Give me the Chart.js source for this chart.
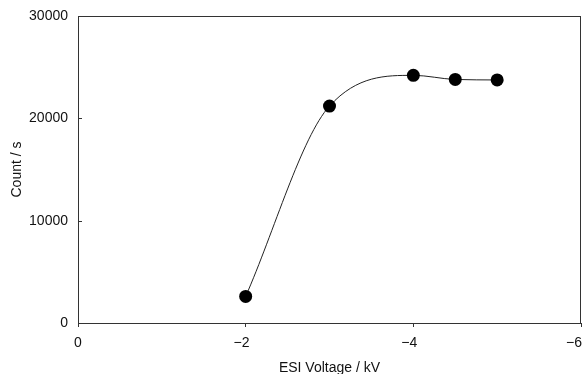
<!DOCTYPE html>
<html>
<head>
<meta charset="utf-8">
<script src="https://cdn.jsdelivr.net/npm/chart.js@4/dist/chart.umd.min.js"></script>
<style>
  html, body { margin: 0; padding: 0; background: #fff; }
  #wrap { width: 582px; height: 374px; position: relative; }
</style>
</head>
<body>
<div id="wrap"><canvas id="esi-chart"></canvas></div>
<script>
// ESI voltage (kV) vs. ion count rate
const voltages = [-2, -3, -4, -4.5, -5];
const counts = [2600, 21200, 24200, 23800, 23750];
const xTicks = [-6, -4, -2, 0];
const yTicks = [0, 10000, 20000, 30000];

const AXIS_COLOR = '#333';
const TEXT_COLOR = '#111';
const FONT = 'Liberation Sans, Arial, sans-serif';

const formatVoltage = (v) => (v < 0 ? '\u2212' + Math.abs(v) : String(v));

// box round the plot area, with short inward ticks on the y axis
const frameBox = {
  id: 'frameBox',
  afterDraw(chart) {
    const { ctx, chartArea: a } = chart;
    const y = chart.scales.y;
    ctx.save();
    ctx.strokeStyle = AXIS_COLOR;
    ctx.lineWidth = 1;
    ctx.strokeRect(Math.round(a.left) + 0.5, Math.round(a.top) + 0.5,
      Math.round(a.right - a.left) - 1, Math.round(a.bottom - a.top));
    ctx.beginPath();
    yTicks.forEach((v) => {
      const py = Math.round(y.getPixelForValue(v)) + 0.5;
      ctx.moveTo(a.left, py);
      ctx.lineTo(a.left + 4, py);
    });
    ctx.stroke();
    ctx.restore();
  }
};

// x labels: the digits sit centred under the tick, the minus sign hangs left
const xTickLabels = {
  id: 'xTickLabels',
  afterDraw(chart) {
    const { ctx } = chart;
    const x = chart.scales.x;
    ctx.save();
    ctx.font = `14px ${FONT}`;
    ctx.fillStyle = TEXT_COLOR;
    ctx.textAlign = 'right';
    ctx.textBaseline = 'middle';
    xTicks.forEach((v) => {
      const digitsWidth = ctx.measureText(String(Math.abs(v))).width;
      const right = Math.min(x.getPixelForValue(v) + digitsWidth / 2, chart.width);
      ctx.fillText(formatVoltage(v), right, x.top + 20);
    });
    ctx.restore();
  }
};

const points = voltages.map((v, i) => ({ x: v, y: counts[i] }));

new Chart(document.getElementById('esi-chart'), {
  type: 'scatter',
  data: {
    datasets: [{
      data: points,
      showLine: true,
      borderColor: '#222',
      borderWidth: 1,
      cubicInterpolationMode: 'monotone',
      pointRadius: 6.5,
      pointHoverRadius: 6.5,
      pointBackgroundColor: '#000',
      pointBorderColor: '#000',
      pointBorderWidth: 0
    }]
  },
  options: {
    animation: false,
    responsive: true,
    maintainAspectRatio: false,
    layout: { autoPadding: false, padding: { top: 16, right: 1, bottom: 0, left: 0 } },
    plugins: { legend: { display: false }, tooltip: { enabled: false } },
    scales: {
      x: {
        type: 'linear',
        reverse: true,
        min: -6,
        max: 0,
        afterBuildTicks(scale) { scale.ticks = xTicks.map((v) => ({ value: v })); },
        afterFit(scale) {
          scale.height = 51;
          scale.paddingLeft = 0;
          scale.paddingRight = 0;
        },
        ticks: { display: false },
        grid: { drawOnChartArea: false, drawTicks: true, tickLength: 4, color: AXIS_COLOR },
        border: { color: AXIS_COLOR, width: 1 },
        title: {
          display: true,
          text: 'ESI Voltage / kV',
          color: TEXT_COLOR,
          font: { family: FONT, size: 14, lineHeight: 0.8 },
          padding: { top: 0, bottom: 0 }
        }
      },
      y: {
        type: 'linear',
        min: 0,
        max: 30000,
        afterBuildTicks(scale) { scale.ticks = yTicks.map((v) => ({ value: v })); },
        afterFit(scale) {
          scale.width = 78;
          scale.paddingTop = 0;
          scale.paddingBottom = 0;
        },
        ticks: {
          color: TEXT_COLOR,
          font: { family: FONT, size: 14 },
          padding: 10,
          callback: (v) => String(v)
        },
        grid: { drawOnChartArea: false, drawTicks: false, tickLength: 0 },
        border: { color: AXIS_COLOR, width: 1 },
        title: {
          display: true,
          text: 'Count / s',
          color: TEXT_COLOR,
          font: { family: FONT, size: 14 },
          padding: { top: 9, bottom: 0 }
        }
      }
    }
  },
  plugins: [frameBox, xTickLabels]
});
</script>
</body>
</html>
